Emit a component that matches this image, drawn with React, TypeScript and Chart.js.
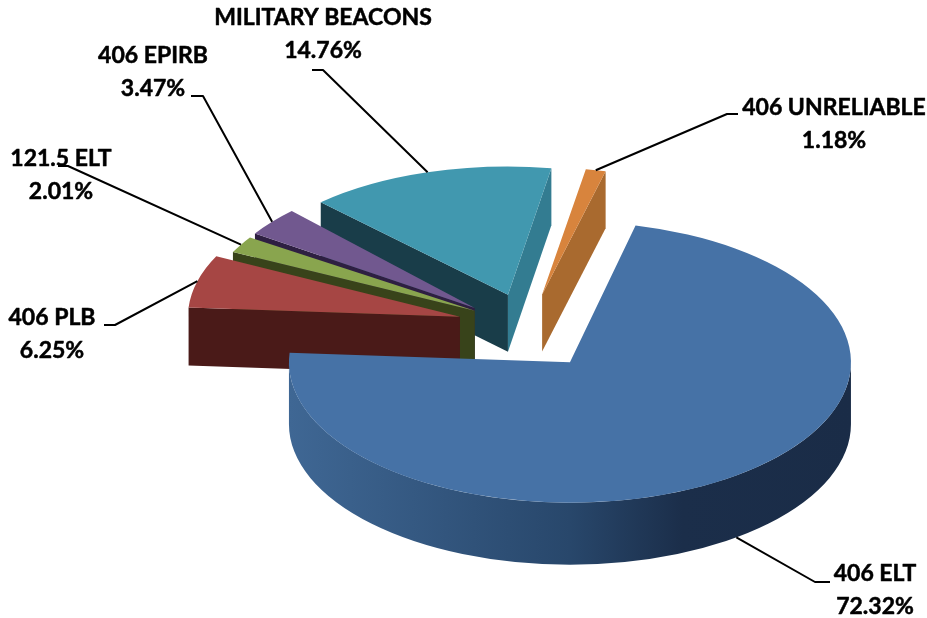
import React, { useEffect, useRef } from "react";
import { Chart, registerables } from "chart.js";

Chart.register(...registerables);

const categories = ["406 ELT", "406 PLB", "121.5 ELT", "406 EPIRB", "MILITARY BEACONS", "406 UNRELIABLE"];
const shares = [72.32, 6.25, 2.01, 3.47, 14.76, 1.18];
const percentLabels = ["72.32%", "6.25%", "2.01%", "3.47%", "14.76%", "1.18%"];
const topColors = ["#4672A6", "#A64644", "#89A54E", "#71588F", "#4198AF", "#D8843D"];
const startWallColors = ["#1A2C47", "#4A1A18", "#38431A", "#2E1F42", "#193D49", "#A96A2F"];
const endWallColors = ["#1A2C47", "#4A1A18", "#38431A", "#2E1F42", "#337C91", "#A96A2F"];

// Perspective tuning for each slice: pull-out, vertical squash, radius, wall height, shift.
const explode = [70, 71, 62, 70, 69, 69];
const squash = [0.5, 0.5, 0.49, 0.51, 0.475, 0.466];
const radii = [281, 272, 270, 264, 270, 272];
const depths = [62, 58, 58, 57, 57, 57];
const lifts = [8, 0, 0, 5, 0, 0];

const FONT = "bold 23px Lato";
const LINE_GAP = 33;
// Label centre (x, first-line y) and leader elbow points, in data order.
const labelPos = [
  [875, 574],
  [52, 318],
  [61, 159],
  [153, 56],
  [323, 18],
  [834, 108],
];
const leaderElbows = [
  [[830, 582], [815, 582]],
  [[104, 325], [115, 325]],
  [[58, 166], [68, 166]],
  [[191, 96], [203, 96]],
  [[312, 70], [323, 70]],
  [[738, 114], [727, 114]],
];

function sliceFrame(arc: any, i: number) {
  const mid = (arc.startAngle + arc.endAngle) / 2;
  const k = squash[i];
  return {
    mid,
    k,
    ox: arc.x + Math.cos(mid) * explode[i],
    oy: arc.y + Math.sin(mid) * explode[i] * k + lifts[i],
    rx: radii[i],
    ry: radii[i] * k,
  };
}

const extrudePlugin = {
  id: "extrude",
  beforeDatasetDraw(chart: any) {
    const ctx = chart.ctx as CanvasRenderingContext2D;
    const arcs = chart.getDatasetMeta(0).data;
    for (let i = arcs.length - 1; i >= 0; i--) {
      const arc = arcs[i];
      const f = sliceFrame(arc, i);
      const d = depths[i];
      const s = arc.startAngle;
      const e = arc.endAngle;
      const wall = (a: number, color: string) => {
        const px = f.ox + Math.cos(a) * f.rx;
        const py = f.oy + Math.sin(a) * f.ry;
        ctx.fillStyle = color;
        ctx.beginPath();
        ctx.moveTo(f.ox, f.oy);
        ctx.lineTo(px, py);
        ctx.lineTo(px, py + d);
        ctx.lineTo(f.ox, f.oy + d);
        ctx.closePath();
        ctx.fill();
      };
      if (-Math.cos(s) > 0) wall(s, startWallColors[i]);
      if (Math.cos(e) > 0) wall(e, endWallColors[i]);

      const lo = Math.max(s, 0);
      const hi = Math.min(e, Math.PI);
      if (hi > lo) {
        const g = ctx.createLinearGradient(f.ox - f.rx, 0, f.ox + f.rx, 0);
        g.addColorStop(0, "#3F6794");
        g.addColorStop(0.5, "#28476B");
        g.addColorStop(0.7, "#1B2E4A");
        g.addColorStop(1, "#1A2C47");
        ctx.fillStyle = g;
        ctx.beginPath();
        ctx.ellipse(f.ox, f.oy, f.rx, f.ry, 0, lo, hi);
        ctx.ellipse(f.ox, f.oy + d, f.rx, f.ry, 0, hi, lo, true);
        ctx.closePath();
        ctx.fill();
      }

      const scale = radii[i] / arc.outerRadius;
      ctx.save();
      ctx.translate(f.ox, f.oy);
      ctx.scale(scale, scale * f.k);
      ctx.translate(-arc.x, -arc.y);
      arc.draw(ctx);
      ctx.restore();
    }
    return false;
  },
};

const labelPlugin = {
  id: "sliceLabels",
  afterDraw(chart: any) {
    const ctx = chart.ctx as CanvasRenderingContext2D;
    const arcs = chart.getDatasetMeta(0).data;
    ctx.save();
    ctx.strokeStyle = "#000";
    ctx.lineWidth = 2;
    ctx.lineJoin = "round";
    arcs.forEach((arc: any, i: number) => {
      const f = sliceFrame(arc, i);
      const ax = f.ox + Math.cos(f.mid) * f.rx;
      const ay = f.oy + Math.sin(f.mid) * f.ry + (Math.sin(f.mid) > 0 ? depths[i] : 0);
      ctx.beginPath();
      ctx.moveTo(leaderElbows[i][0][0], leaderElbows[i][0][1]);
      ctx.lineTo(leaderElbows[i][1][0], leaderElbows[i][1][1]);
      ctx.lineTo(ax, ay);
      ctx.stroke();
    });
    ctx.fillStyle = "#000";
    ctx.font = FONT;
    ctx.textAlign = "center";
    ctx.textBaseline = "middle";
    ctx.lineWidth = 0.5;
    categories.forEach((name, i) => {
      const y2 = labelPos[i][1] + LINE_GAP;
      ctx.fillText(name, labelPos[i][0], labelPos[i][1]);
      ctx.strokeText(name, labelPos[i][0], labelPos[i][1]);
      ctx.fillText(percentLabels[i], labelPos[i][0], y2);
      ctx.strokeText(percentLabels[i], labelPos[i][0], y2);
    });
    ctx.restore();
  },
};

export default function App() {
  const ref = useRef<HTMLCanvasElement | null>(null);
  useEffect(() => {
    const chart = new Chart(ref.current as HTMLCanvasElement, {
      type: "pie",
      data: {
        labels: categories,
        datasets: [
          {
            data: shares,
            backgroundColor: topColors,
            borderWidth: 0,
            clip: false,
          } as any,
        ],
      },
      options: {
        animation: false,
        responsive: false,
        rotation: 13.5,
        radius: 281,
        layout: { padding: { left: 130, top: 34, right: 0, bottom: 0 } },
        plugins: { legend: { display: false }, tooltip: { enabled: false } },
      } as any,
      plugins: [extrudePlugin, labelPlugin] as any,
    });
    return () => chart.destroy();
  }, []);
  return (
    <canvas
      ref={ref}
      width={927}
      height={618}
      style={{ position: "absolute", left: 0, top: 0, width: 927, height: 618, background: "#fff" }}
    />
  );
}
